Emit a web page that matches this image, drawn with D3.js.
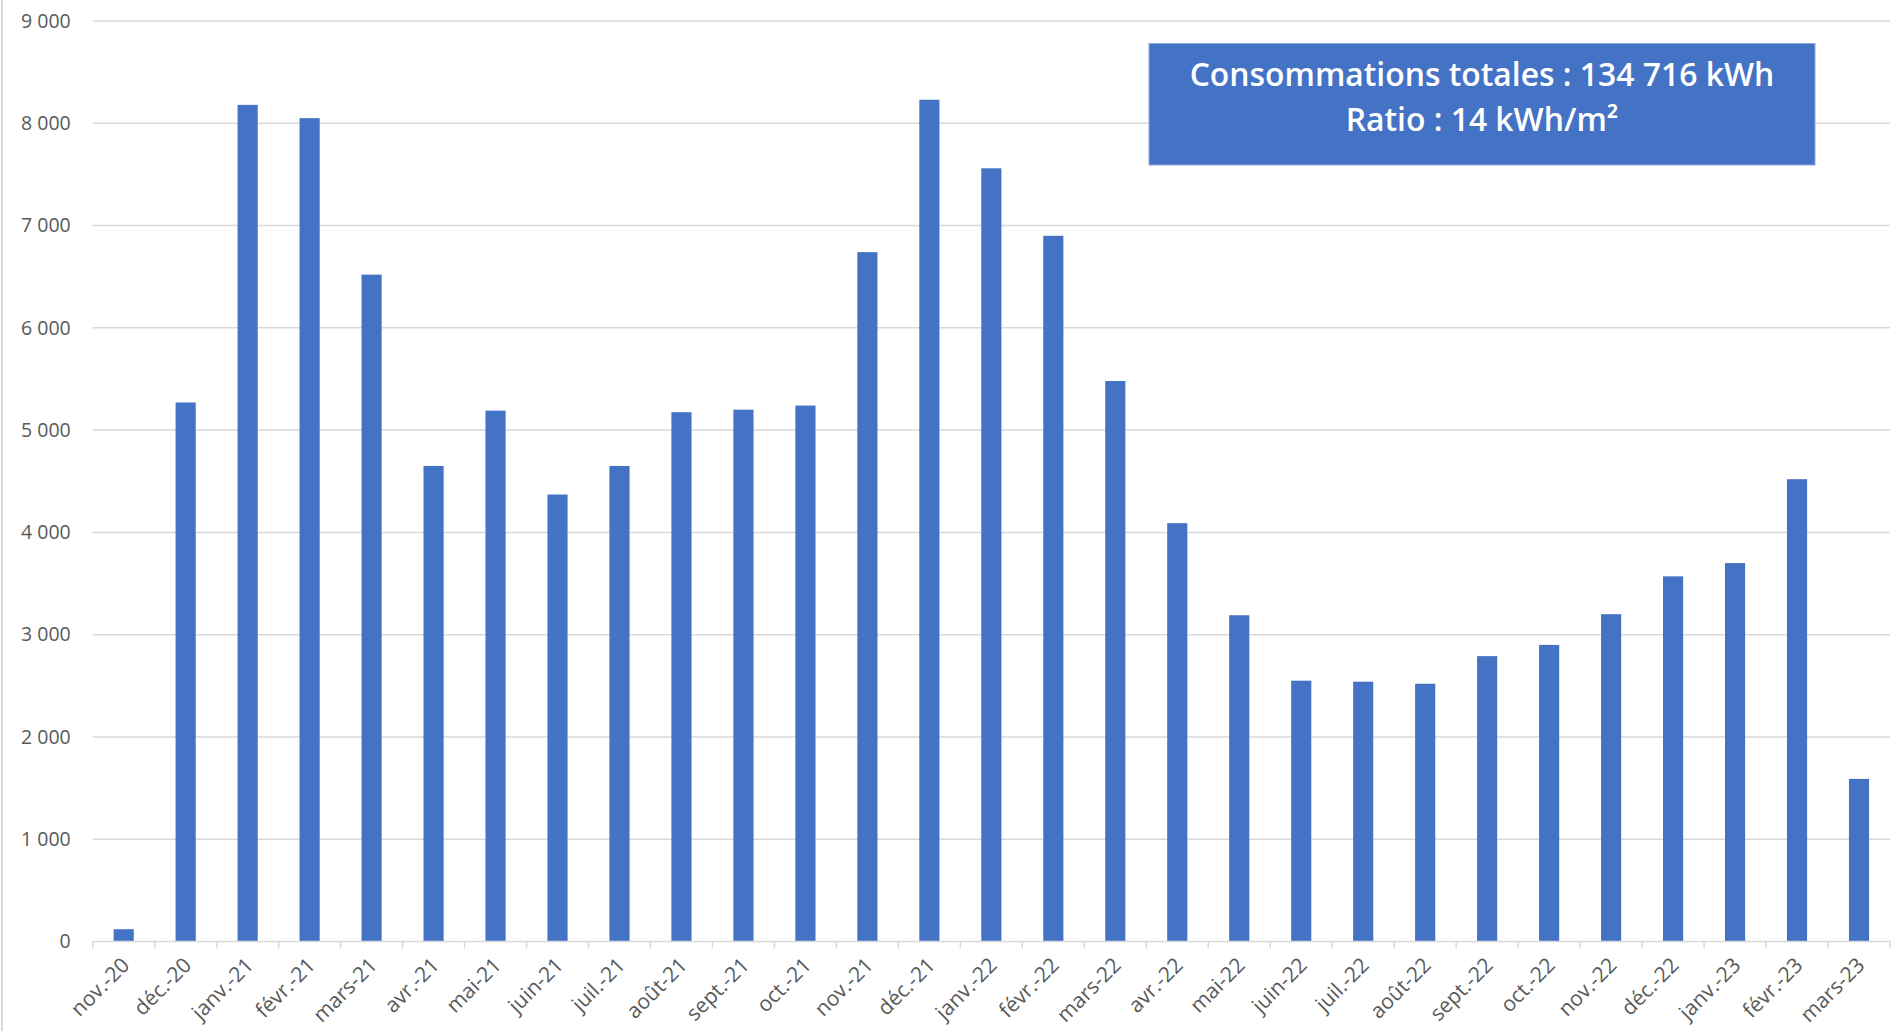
<!DOCTYPE html>
<html>
<head>
<meta charset="utf-8">
<script src="https://cdn.jsdelivr.net/npm/d3@7"></script>
<style>
  body { margin: 0; background: #fff; }
  text { font-family: "Open Sans", sans-serif; }
</style>
</head>
<body>
<div id="root"></div>
<script>

// monthly consumption (kWh)
const months = ["nov.-20","déc.-20","janv.-21","févr.-21","mars-21","avr.-21","mai-21","juin-21","juil.-21","août-21","sept.-21","oct.-21",
  "nov.-21","déc.-21","janv.-22","févr.-22","mars-22","avr.-22","mai-22","juin-22","juil.-22","août-22","sept.-22","oct.-22",
  "nov.-22","déc.-22","janv.-23","févr.-23","mars-23"]
const consumption = [120,5270,8180,8050,6520,4650,5190,4370,4650,5175,5200,5240,
  6740,8230,7560,6900,5480,4090,3190,2550,2540,2520,2790,2900,
  3200,3570,3700,4520,1590]
const y_ticks = [0,1000,2000,3000,4000,5000,6000,7000,8000,9000]
const box_lines = ["Consommations totales : 134 716 kWh", "Ratio : 14 kWh/m²"]

const W = 1895, H = 1031
const margin = {top: 21, right: 5, bottom: 89.5, left: 92.7}

const fr = d3.formatLocale({decimal: ",", thousands: " ", grouping: [3], currency: ["", " €"]})
const fmt = fr.format(",")

const svg = d3.select("#root").append("svg")
  .attr("width", W).attr("height", H)

svg.append("rect").attr("width", W).attr("height", H).attr("fill", "#fff")

// chart border on the left
svg.append("line")
  .attr("x1", 2).attr("x2", 2).attr("y1", 0).attr("y2", H)
  .attr("stroke", "#d9d9d9").attr("stroke-width", 2)

const x_scale = d3.scaleBand()
  .domain(months)
  .range([margin.left, W - margin.right])
  .paddingInner(0.675)
  .paddingOuter(0.3375)

const y_scale = d3.scaleLinear()
  .domain([0, 9000])
  .range([H - margin.bottom, margin.top])

const step = x_scale.step()
const base_y = y_scale(0)

// gridlines
svg.append("g")
  .selectAll("line")
  .data(y_ticks.filter(t => t > 0))
  .enter().append("line")
  .attr("x1", margin.left).attr("x2", W - margin.right)
  .attr("y1", d => y_scale(d)).attr("y2", d => y_scale(d))
  .attr("stroke", "#d9d9d9").attr("stroke-width", 1.5)

// y labels
const y_axis = svg.append("g")
  .attr("transform", `translate(${margin.left},0)`)
  .call(d3.axisLeft(y_scale).tickValues(y_ticks).tickFormat(fmt).tickSize(0).tickPadding(22))
y_axis.select(".domain").remove()
y_axis.selectAll("text")
  .attr("fill", "#595959")
  .style("font-size", "19.5px")
  .style("font-family", "Open Sans, sans-serif")

// bars
svg.append("g")
  .selectAll("rect")
  .data(consumption)
  .enter().append("rect")
  .attr("x", (d, i) => x_scale(months[i]))
  .attr("y", d => y_scale(d))
  .attr("width", x_scale.bandwidth())
  .attr("height", d => base_y - y_scale(d))
  .attr("fill", "#4472c4")

// category axis line + ticks at band boundaries
const bounds = months.map(m => x_scale(m) - (step - x_scale.bandwidth()) / 2)
bounds.push(W - margin.right)

const x_axis = svg.append("g")
x_axis.append("line")
  .attr("x1", margin.left).attr("x2", W - margin.right)
  .attr("y1", base_y).attr("y2", base_y)
  .attr("stroke", "#d9d9d9").attr("stroke-width", 1.5)
x_axis.selectAll("line.tick")
  .data(bounds)
  .enter().append("line")
  .attr("class", "tick")
  .attr("x1", d => d).attr("x2", d => d)
  .attr("y1", base_y).attr("y2", base_y + 7)
  .attr("stroke", "#d9d9d9").attr("stroke-width", 1.5)

x_axis.selectAll("text")
  .data(months)
  .enter().append("text")
  .attr("transform", d => `translate(${x_scale(d) + x_scale.bandwidth() / 2 + 7},${base_y + 25}) rotate(-45)`)
  .attr("text-anchor", "end")
  .attr("fill", "#595959")
  .style("font-size", "21px")
  .text(d => d)

// annotation box
const box = {x: 1149, y: 43.5, w: 666, h: 121.5}
svg.append("rect")
  .attr("x", box.x).attr("y", box.y)
  .attr("width", box.w).attr("height", box.h)
  .attr("fill", "#4472c4")
  .attr("stroke", "#8faadc").attr("stroke-width", 1)

const box_text = svg.append("g")
  .selectAll("text")
  .data(box_lines)
  .enter().append("text")
  .attr("x", box.x + box.w / 2)
  .attr("y", (d, i) => 86 + i * 45)
  .attr("text-anchor", "middle")
  .attr("fill", "#fff")
  .style("font-family", "Open Sans, sans-serif")
  .style("font-weight", "600")
  .style("font-size", "30px")
  .text(d => d)

// scale the box font so the first line spans about 585px like the original
const first_len = box_text.node().getComputedTextLength()
box_text.style("font-size", (30 * 585 / first_len) + "px")

</script>
</body>
</html>
